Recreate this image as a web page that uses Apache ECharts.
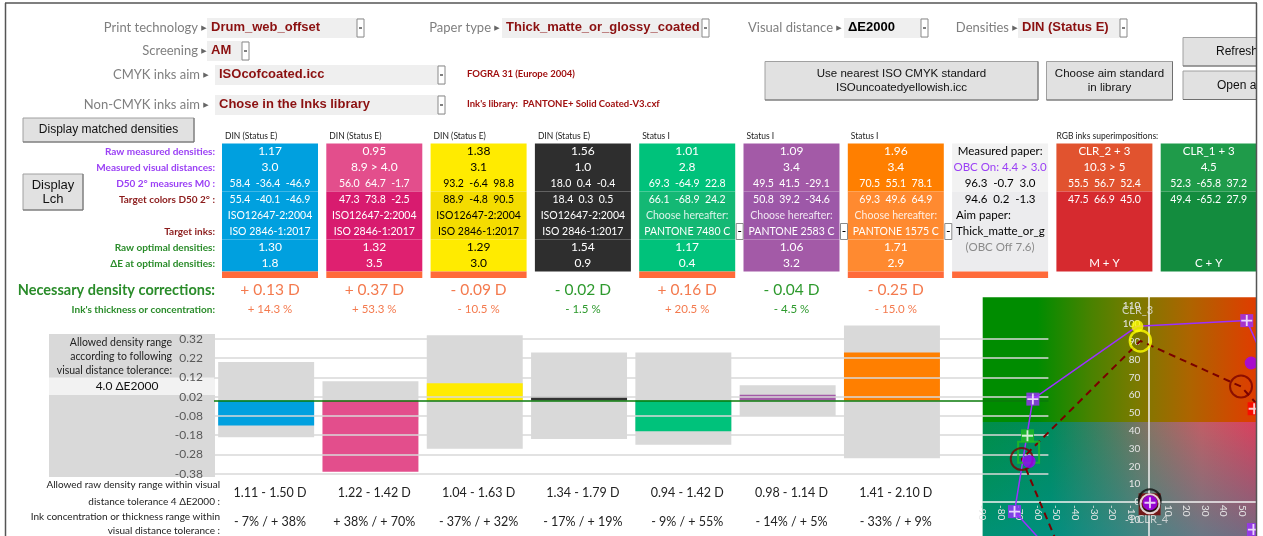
<!DOCTYPE html>
<html>
<head>
<meta charset="utf-8">
<script src="https://cdn.jsdelivr.net/npm/echarts@6/dist/echarts.min.js"></script>
<style>
  html, body { margin: 0; padding: 0; background: #fff; }
  #main { width: 1263px; height: 536px; }
</style>
</head>
<body>
<div id="main"></div>
<script>
// ---- table data ----
var inkHeaders = ['DIN (Status E)', 'DIN (Status E)', 'DIN (Status E)', 'DIN (Status E)', 'Status I', 'Status I', 'Status I'];
var rawDensities = [1.17, 0.95, 1.38, 1.56, 1.01, 1.09, 1.96];
var visualDistances = ['3.0', '8.9 > 4.0', '3.1', '1.0', '2.8', '3.4', '3.4'];
var measuredLab = ['58.4  -36.4  -46.9', '56.0  64.7  -1.7', '93.2  -6.4  98.8', '18.0  0.4  -0.4', '69.3  -64.9  22.8', '49.5  41.5  -29.1', '70.5  55.1  78.1'];
var targetLab = ['55.4  -40.1  -46.9', '47.3  73.8  -2.5', '88.9  -4.8  90.5', '18.4  0.3  0.5', '66.1  -68.9  24.2', '50.8  39.2  -34.6', '69.3  49.6  64.9'];
var targetNorms = ['ISO12647-2:2004', 'ISO12647-2:2004', 'ISO12647-2:2004', 'ISO12647-2:2004', 'Choose hereafter:', 'Choose hereafter:', 'Choose hereafter:'];
var targetInks = ['ISO 2846-1:2017', 'ISO 2846-1:2017', 'ISO 2846-1:2017', 'ISO 2846-1:2017', 'PANTONE 7480 C', 'PANTONE 2583 C', 'PANTONE 1575 C'];
var optimalDensities = [1.30, 1.32, 1.29, 1.54, 1.17, 1.06, 1.71];
var optimalDeltaE = ['1.8', '3.5', '3.0', '0.9', '0.4', '3.2', '2.9'];
var corrections = ['+ 0.13 D', '+ 0.37 D', '- 0.09 D', '- 0.02 D', '+ 0.16 D', '- 0.04 D', '- 0.25 D'];
var thickness = ['+ 14.3 %', '+ 53.3 %', '- 10.5 %', '- 1.5 %', '+ 20.5 %', '- 4.5 %', '- 15.0 %'];
var correctionOk = [false, false, false, true, false, true, false];
var outOfTolerance = [true, true, true, false, true, false, true, true];
var rangeLow = [1.11, 1.22, 1.04, 1.34, 0.94, 0.98, 1.41];
var rangeHigh = [1.50, 1.42, 1.63, 1.79, 1.42, 1.14, 2.10];
var concentrationRange = ['- 7% / + 38%', '+ 38% / + 70%', '- 37% / + 32%', '- 17% / + 19%', '- 9% / + 55%', '- 14% / + 5%', '- 33% / + 9%'];
var paperTexts = ['Measured paper:', 'OBC On: 4.4 > 3.0', '96.3  -0.7  3.0', '94.6  0.2  -1.3', 'Aim paper:', 'Thick_matte_or_g', '(OBC Off 7.6)', ''];
var overprintTexts = [
  ['CLR_2 + 3', '10.3 > 5', '55.5  56.7  52.4', '47.5  66.9  45.0', '', '', '', 'M + Y'],
  ['CLR_1 + 3', '4.5', '52.3  -65.8  37.2', '49.4  -65.2  27.9', '', '', '', 'C + Y']
];
var rowLabels = ['Raw measured densities:', 'Measured visual distances:', 'D50 2° measures M0 :', 'Target colors D50 2° :', '', 'Target inks:', 'Raw optimal densities:', 'ΔE at optimal densities:'];

// ---- bar chart ----
var barCats = ['Cyan', 'Magenta', 'Yellow', 'Black', 'P7480', 'P2583', 'P1575', ''];
var yTicks = [0.32, 0.22, 0.12, 0.02, -0.08, -0.18, -0.28, -0.38];

// ---- a*b* plot ----
var abRangeA = [-90, 57.7];
var abRangeB = [-20, 115];
var measuredGamut = [[-36.4, -46.9], [-72.8, -5.4], [-62.9, 57.8], [-6.4, 98.8], [52.7, 101.9], [75, 50]];
var targetGamut = [[-40.1, -46.9], [-68.9, 24.2], [-4.8, 90.5], [49.6, 64.9], [66.9, 45.0]];
var measuredSquares = [[-72.8, -5.4], [-62.9, 57.8], [52.7, 101.9], [56.3, -15.5]];
var overprintMeasured = [[56.7, 52.4], [-65.8, 37.2]];
var overprintTarget = [[-65.2, 27.9]];
var inkMeasured = [[55.1, 78.1], [-64.9, 22.8]];
var inkTarget = [[49.6, 64.9], [-68.9, 24.2]];
var yellowMeasured = [[-6.4, 98.8]];
var yellowTarget = [[-4.8, 90.5]];
var paperTarget = [[0.2, -1.3]];
var blackTarget = [[0.3, 1.0]];
var paperMeasured = [[0.4, -1.0]];
var blackMeasured = [[0.4, -0.4]];
var plotLabels = [[-6.3, 107.5, 'CLR_3'], [1.8, -10, 'CLR_4']];

var measColors = ['#00a0df', '#e34e8c', '#ffeb00', '#2e2e2e', '#00c27b', '#a35aa7', '#ff7f00'];
var targColors = ['#00a0df', '#d81b6f', '#f4dc00', '#2e2e2e', '#14b874', '#9d58a8', '#ff8a30'];
var optColors = ['#00a0df', '#df2070', '#ffeb00', '#2e2e2e', '#00c27b', '#a35aa7', '#ff8a30'];

var gfx = [];
function rect(x, y, w, h, fill, stroke, z) {
  gfx.push({ type: 'rect', silent: true, z: z || 1, shape: { x: x, y: y, width: w, height: h },
    style: { fill: fill, stroke: stroke || null, lineWidth: stroke ? 1 : 0 } });
}
function text(x, y, s, o) {
  o = o || {};
  gfx.push({ type: 'text', silent: true, x: x, y: y, z: o.z || 4,
    style: { text: s, fill: o.color || '#000', fontSize: o.size || 11, fontFamily: o.family || 'Lato',
      fontWeight: o.weight || 'normal', opacity: o.opacity == null ? 1 : o.opacity,
      align: o.align || 'left', verticalAlign: 'middle', textAlign: o.align || 'left', textVerticalAlign: 'middle' } });
}
function line(x1, y1, x2, y2, color, w, z) {
  gfx.push({ type: 'line', silent: true, z: z || 2, shape: { x1: x1, y1: y1, x2: x2, y2: y2 },
    style: { stroke: color, lineWidth: w || 1 } });
}
function dropArrow(x, y, h) {
  rect(x, y, 7, h, '#fff', '#8a8a8a', 2);
  line(x + 2, y + h / 2, x + 5, y + h / 2, '#000', 1, 3);
}
function dropdown(lbl, lblRight, y, bx, bw, value, valueColor) {
  text(lblRight, y, lbl, { color: '#7f7f7f', size: 13, align: 'right' });
  text(lblRight + 6, y, '▶', { color: '#666', size: 7, family: 'DejaVu Sans', align: 'center' });
  rect(bx, y - 10, bw, 20, '#efefef');
  text(bx + 4, y - 1, value, { color: valueColor, size: 13, weight: 'bold', family: 'Liberation Sans' });
  dropArrow(bx + bw - 7, y - 9, 18);
}
function button(x, y, w, h, lines, o) {
  o = o || {};
  rect(x, y, w, h, '#e1e1e1', '#a0a0a0', 2);
  line(x + w, y, x + w, y + h, '#6f6f6f', 1, 2);
  line(x, y + h, x + w, y + h, '#6f6f6f', 1, 2);
  lines.forEach(function (s, i) {
    text(o.tx || x + w / 2, y + h / 2 + (i - (lines.length - 1) / 2) * 14, s,
      { size: o.size || 12, family: 'Liberation Sans', align: o.align || 'center', color: '#111' });
  });
}

// header area
dropdown('Print technology', 198, 28, 207, 157, 'Drum_web_offset', '#8b1010');
dropdown('Paper type', 491, 28, 502, 207, 'Thick_matte_or_glossy_coated', '#8b1010');
dropdown('Visual distance', 833, 28, 844, 84, 'ΔE2000', '#000');
dropdown('Densities', 1009, 28, 1018, 109, 'DIN (Status E)', '#8b1010');
dropdown('Screening', 198, 51, 207, 42, 'AM', '#8b1010');
dropdown('CMYK inks aim', 200, 75, 215, 230, 'ISOcofcoated.icc', '#8b1010');
dropdown('Non-CMYK inks aim', 200, 105, 215, 230, 'Chose in the Inks library', '#8b1010');
text(467, 74, 'FOGRA 31 (Europe 2004)', { color: '#a01010', size: 9.5, weight: 'bold' });
text(467, 104, "Ink's library:  PANTONE+ Solid Coated-V3.cxf", { color: '#a01010', size: 9.5, weight: 'bold' });

button(765, 61.5, 273, 38.5, ['Use nearest ISO CMYK standard', 'ISOuncoatedyellowish.icc'], { size: 11.5 });
button(1046.5, 61.5, 126, 38.5, ['Choose aim standard', 'in library'], { size: 11.5 });
button(1183, 37.5, 90, 28.5, ['Refresh'], { tx: 1216, align: 'left', size: 12 });
button(1183, 71, 90, 28.5, ['Open a'], { tx: 1217, align: 'left', size: 12 });
button(23, 118, 171, 24, ['Display matched densities'], { size: 12 });
button(23, 174, 60, 36, ['Display', 'Lch'], { size: 13 });

// measurement table
var colW = 96, rowH = 16, top0 = 143.5;
function colX(i) { return 222 + i * 104.3; }
rowLabels.forEach(function (s, r) {
  var c = r < 3 ? '#9b40f5' : (r < 6 ? '#8c1c1c' : '#2a8c2a');
  text(215, top0 + r * rowH + 8, s, { color: c, size: 10, weight: 'bold', align: 'right' });
});
for (var i = 0; i < 7; i++) {
  var x = colX(i), fc = i === 2 ? '#000' : '#fff';
  text(x + 3, 136, inkHeaders[i], { size: 8.5, color: '#222' });
  rect(x, top0, colW, rowH * 3, measColors[i]);
  rect(x, top0 + rowH * 3, colW, rowH * 3, targColors[i]);
  rect(x, top0 + rowH * 6, colW, rowH * 2, optColors[i]);
  if (outOfTolerance[i]) rect(x, top0 + rowH * 8, colW, 6.5, '#ff6a3a');
  var cells = [rawDensities[i].toFixed(2), visualDistances[i], measuredLab[i], targetLab[i],
    targetNorms[i], targetInks[i], optimalDensities[i].toFixed(2), optimalDeltaE[i]];
  cells.forEach(function (s, r) {
    var sz = (r >= 2 && r <= 5) ? 10.5 : 12;
    text(x + colW / 2, top0 + r * rowH + 8, s, { color: fc, size: sz, align: 'center', opacity: (r === 4 && i > 3) ? 0.85 : 1 });
  });
  if (i > 3) dropArrow(x + colW + 1, top0 + rowH * 5, rowH);
  // corrections
  var cc = correctionOk[i] ? '#2e9a2e' : '#f47a4e';
  text(x + colW / 2, 290, corrections[i], { color: cc, size: 15.5, align: 'center' });
  text(x + colW / 2, 309.5, thickness[i], { color: cc, size: 11.5, align: 'center' });
  text(x + colW / 2, 493, rangeLow[i].toFixed(2) + ' - ' + rangeHigh[i].toFixed(2) + ' D', { color: '#222', size: 12.5, align: 'center' });
  text(x + colW / 2, 522, concentrationRange[i], { color: '#222', size: 12.5, align: 'center' });
}
// paper column
(function () {
  var x = colX(7);
  rect(x, top0, colW, rowH * 3, '#f2f2f2');
  rect(x, top0 + rowH * 3, colW, rowH * 5, '#ececee');
  rect(x, top0 + rowH * 8, colW, 6.5, '#ff6a3a');
  var colors = ['#000', '#9b40f5', '#000', '#000', '#000', '#000', '#8a8a8a', '#000'];
  paperTexts.forEach(function (s, r) {
    var left = r === 4 || r === 5;
    text(left ? x + 4 : x + colW / 2, top0 + r * rowH + 8, s,
      { color: colors[r], size: 11.5, align: left ? 'left' : 'center' });
  });
})();
// overprint columns
text(colX(8), 136, 'RGB inks superimpositions:', { size: 8.5, color: '#222' });
[['#e1532f', '#d62a2f'], ['#1f9b4a', '#138c3e']].forEach(function (cols, k) {
  var x = colX(8 + k);
  rect(x, top0, colW, rowH * 3, cols[0]);
  rect(x, top0 + rowH * 3, colW, rowH * 5, cols[1]);
  overprintTexts[k].forEach(function (s, r) {
    text(x + colW / 2, top0 + r * rowH + 8, s, { color: '#fff', size: r > 1 && r < 4 ? 10.5 : 11.5, align: 'center' });
  });
});

text(215, 290, 'Necessary density corrections:', { color: '#2a8c2a', size: 14.5, weight: 'bold', align: 'right' });
text(215, 309.5, "Ink's thickness or concentration:", { color: '#2a8c2a', size: 10, weight: 'bold', align: 'right' });

// left grey panel of the bar chart
rect(49, 334, 166, 143, '#d9d9d9', null, 0);
rect(49, 377.5, 166, 17.5, '#f2f2f2', null, 0);
text(172, 342.5, 'Allowed density range', { size: 10.5, align: 'right', color: '#222' });
text(172, 357, 'according to following', { size: 10.5, align: 'right', color: '#222' });
text(172, 370.5, 'visual distance tolerance:', { size: 10.5, align: 'right', color: '#222' });
text(127, 386.5, '4.0 ΔE2000', { size: 12, align: 'center', color: '#111' });
text(220, 485, 'Allowed raw density range within visual', { size: 10, align: 'right', color: '#222' });
text(220, 501.5, 'distance tolerance 4 ΔE2000 :', { size: 10, align: 'right', color: '#222' });
text(220, 516.5, 'Ink concentration or thickness range within', { size: 10, align: 'right', color: '#222' });
text(220, 531, 'visual distance tolerance :', { size: 10, align: 'right', color: '#222' });

// a*b* plot background
var px0 = 982.7, pw = 273.3, py0 = 297.3, ph = 240.3, pyMid = 421.9;
gfx.push({ type: 'rect', silent: true, z: 5, shape: { x: px0, y: py0, width: pw, height: pyMid - py0 },
  style: { fill: { type: 'linear', x: 0, y: 0, x2: 1, y2: 0, colorStops: [
    { offset: 0, color: '#008c00' }, { offset: 0.2, color: '#008c00' }, { offset: 0.4, color: '#4a8200' },
    { offset: 0.56, color: '#7a7a00' }, { offset: 0.76, color: '#ae6400' }, { offset: 1, color: '#e03c00' }] } } });
gfx.push({ type: 'rect', silent: true, z: 5, shape: { x: px0, y: pyMid, width: pw, height: 536 - pyMid },
  style: { fill: { type: 'linear', x: 0, y: 0, x2: 1, y2: 0, colorStops: [
    { offset: 0, color: '#008e48' }, { offset: 0.25, color: '#008a5c' }, { offset: 0.5, color: '#5a7a60' },
    { offset: 0.62, color: '#8a7264' }, { offset: 0.8, color: '#c05e66' }, { offset: 1, color: '#d9405e' }] } } });
gfx.push({ type: 'rect', silent: true, z: 5, shape: { x: px0, y: pyMid, width: pw, height: 536 - pyMid },
  style: { fill: { type: 'linear', x: 0, y: 0, x2: 0, y2: 1, colorStops: [
    { offset: 0, color: 'rgba(0,150,160,0)' }, { offset: 1, color: 'rgba(0,150,170,0.45)' }] } } });

// frame
rect(1256.5, 0, 7, 536, '#fff', null, 20);
line(5.5, 3, 5.5, 536, '#555', 1.5, 21);
line(5, 3, 1257, 3, '#555', 1.5, 21);
line(1256.5, 3, 1256.5, 536, '#555', 1.5, 21);

var hi = rangeHigh.map(function (v, i) { return +(v - optimalDensities[i]).toFixed(2); });
var lo = rangeLow.map(function (v, i) { return +(v - optimalDensities[i]).toFixed(2); });
var diff = rawDensities.map(function (v, i) {
  return { value: +(v - optimalDensities[i]).toFixed(2), itemStyle: { color: optColors[i] === '#2e2e2e' ? '#333' : measColors[i] } };
});

// a*b* axes cross at zero: shift the axes there with offset
var yAxisShift = -pw * (0 - abRangeA[0]) / (abRangeA[1] - abRangeA[0]);
var xAxisShift = -ph * (0 - abRangeB[0]) / (abRangeB[1] - abRangeB[0]);

function sc(data, symbol, size, style, extra) {
  var s = { type: 'scatter', xAxisIndex: 1, yAxisIndex: 1, z: 10, silent: true, data: data,
    symbol: symbol, symbolSize: size, itemStyle: style };
  for (var k in extra || {}) s[k] = extra[k];
  return s;
}
var ring = function (c, w) { return { color: 'rgba(0,0,0,0)', borderColor: c, borderWidth: w }; };
var cross = 'path://M5,0H7V12H5Z M0,5H12V7H0Z';

var option = {
  animation: false,
  backgroundColor: '#fff',
  graphic: { elements: gfx },
  grid: [
    { left: 214, top: 319.75, width: 834.4, height: 153.95, outerBoundsMode: 'none', containLabel: false },
    { left: px0, top: py0, width: pw, height: ph, outerBoundsMode: 'none', containLabel: false }
  ],
  xAxis: [
    { type: 'category', gridIndex: 0, data: barCats, show: false },
    { type: 'value', gridIndex: 1, min: abRangeA[0], max: abRangeA[1], interval: 10, z: 8,
      position: 'bottom', offset: xAxisShift,
      axisLine: { onZero: false, lineStyle: { color: '#f2f2f2', width: 1.5 } },
      axisTick: { show: false }, splitLine: { show: false },
      axisLabel: { rotate: -90, color: '#e6e6e6', fontSize: 10, fontFamily: 'Lato', margin: 3, showMaxLabel: false } }
  ],
  yAxis: [
    { type: 'value', gridIndex: 0, min: -0.38, max: 0.42, show: false },
    { type: 'value', gridIndex: 1, min: abRangeB[0], max: abRangeB[1], interval: 10, z: 8,
      position: 'left', offset: yAxisShift,
      axisLine: { onZero: false, lineStyle: { color: '#f2f2f2', width: 1.5 } },
      axisTick: { show: false }, splitLine: { show: false },
      axisLabel: { color: '#e6e6e6', fontSize: 10, fontFamily: 'Lato', margin: 9, showMaxLabel: false, showMinLabel: false } }
  ],
  series: [
    { type: 'line', xAxisIndex: 0, yAxisIndex: 0, z: 1, data: [], silent: true,
      markLine: { silent: true, symbol: 'none', animation: false,
        lineStyle: { color: '#d9d9d9', width: 1.5, type: 'solid' },
        label: { show: true, position: 'start', distance: 11, color: '#595959', fontSize: 12, fontFamily: 'Lato',
          formatter: function (p) { return p.value.toFixed(2); } },
        data: yTicks.map(function (v) { return { yAxis: v }; }) } },
    { type: 'bar', xAxisIndex: 0, yAxisIndex: 0, z: 2, data: hi, barGap: '-100%', barCategoryGap: '8%', itemStyle: { color: '#d9d9d9' } },
    { type: 'bar', xAxisIndex: 0, yAxisIndex: 0, z: 2, data: lo, barGap: '-100%', barCategoryGap: '8%', itemStyle: { color: '#d9d9d9' } },
    { type: 'bar', xAxisIndex: 0, yAxisIndex: 0, z: 2, data: diff, barGap: '-100%', barCategoryGap: '8%' },
    { type: 'line', xAxisIndex: 0, yAxisIndex: 0, z: 3, data: [], silent: true,
      markLine: { silent: true, symbol: 'none', animation: false, label: { show: false },
        lineStyle: { color: '#0a7a0a', width: 1.5, type: 'solid' }, data: [{ yAxis: 0 }] } },
    // a*b* plot
    { type: 'line', xAxisIndex: 1, yAxisIndex: 1, z: 10, silent: true, data: targetGamut, symbol: 'none',
      lineStyle: { color: '#7a0000', width: 2, type: [7, 5] } },
    { type: 'line', xAxisIndex: 1, yAxisIndex: 1, z: 10, silent: true, data: measuredGamut, symbol: 'none',
      lineStyle: { color: '#9b30ff', width: 1.5 } },
    sc(paperTarget, 'rect', 22, { color: '#7a0000' }),
    sc(blackTarget, 'circle', 22, ring('#111', 2)),
    sc(paperMeasured, 'circle', 19, ring('#fff', 2)),
    sc(blackMeasured, 'circle', 15, { color: '#9b00ff' }),
    sc(overprintTarget, 'rect', 21, ring('#22bb22', 2)),
    sc(inkTarget, 'circle', 22, ring('#7a0000', 2)),
    sc(inkMeasured, 'circle', 13, { color: '#9b00ff' }),
    sc(measuredSquares, 'rect', 13, { color: '#9b30ff' }),
    sc(overprintMeasured, 'rect', 13, { color: function (p) { return p.dataIndex === 0 ? '#ff0000' : '#22bb22'; } }),
    sc(measuredSquares.concat(overprintMeasured, blackMeasured), cross, 11, { color: '#fff' }),
    sc(yellowMeasured, 'circle', 12, { color: '#ffff00' }),
    sc(yellowTarget, 'circle', 21, ring('#ffff00', 2.5)),
    sc(plotLabels, 'circle', 1, { color: 'rgba(0,0,0,0)' }, {
      label: { show: true, position: 'inside', color: '#e6e6e6', fontSize: 11, fontFamily: 'Lato',
        formatter: function (p) { return p.value[2]; } } })
  ]
};

var chart = echarts.init(document.getElementById('main'));
chart.setOption(option);
</script>
</body>
</html>
